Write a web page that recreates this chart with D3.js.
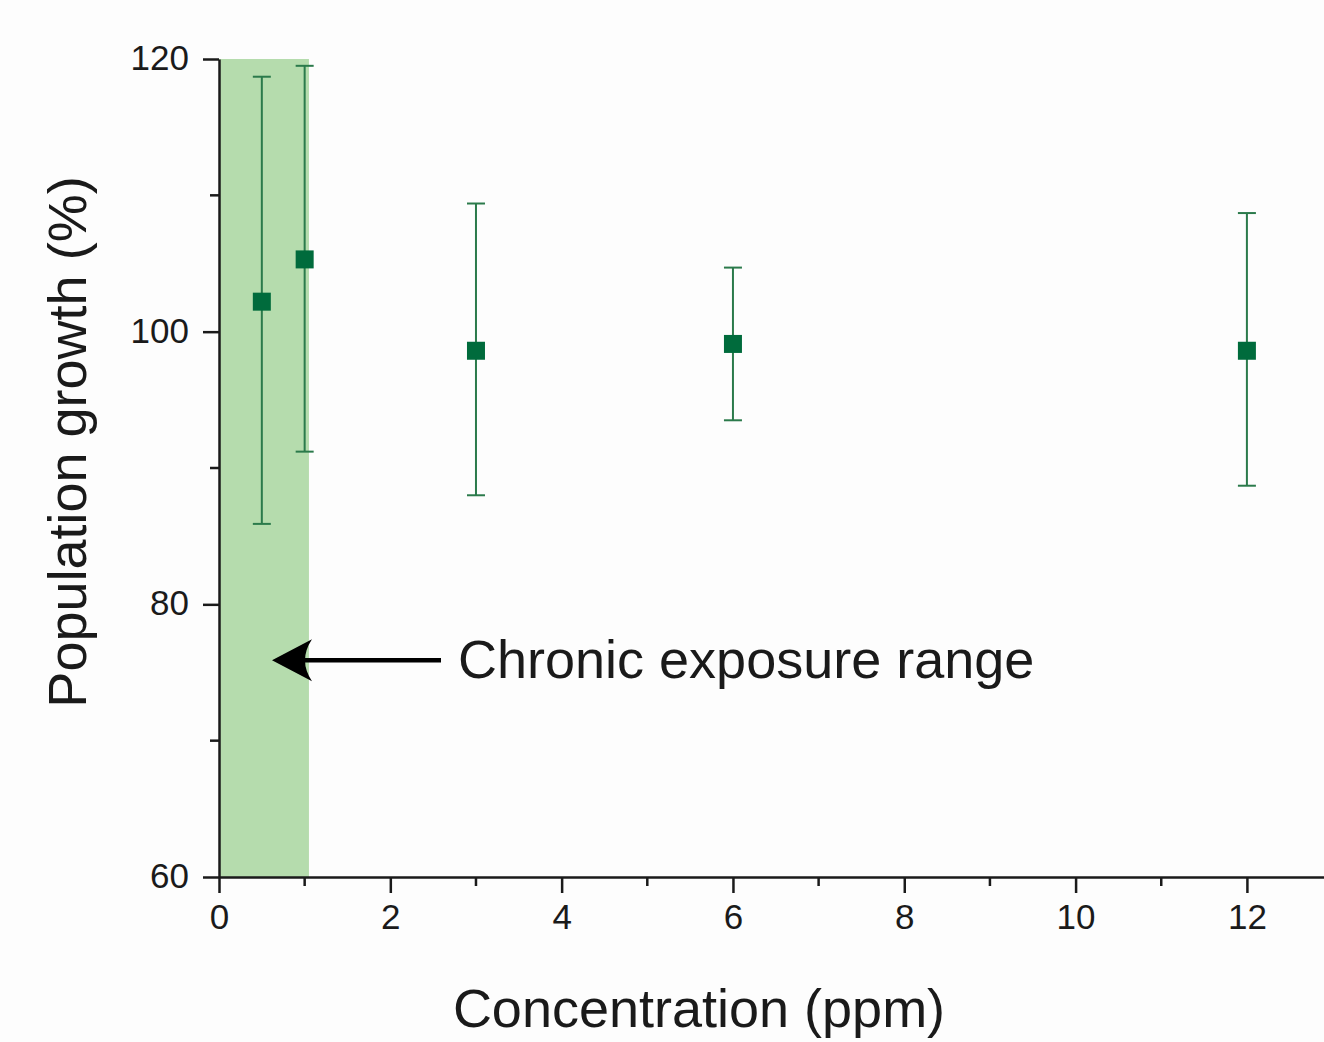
<!DOCTYPE html>
<html>
  <head>
    <meta charset="utf-8">
    <script src="https://cdn.jsdelivr.net/npm/d3@7"></script>
    <style>
      body { margin: 0; background: #fdfdfd; }
      svg text { font-family: "Liberation Sans", Arial, sans-serif; fill: #1a1a1a; }
    </style>
  </head>
  <body>
    <svg id="chart"></svg>
    <script>
    // data
    var conc = [0.5, 1, 3, 6, 12];
    var growth = [102.2, 105.3, 98.6, 99.1, 98.6];
    var errHigh = [118.7, 119.5, 109.4, 104.7, 108.7];
    var errLow = [85.9, 91.2, 88.0, 93.5, 88.7];
    var xTicks = [0, 2, 4, 6, 8, 10, 12];
    var xMinor = [1, 3, 5, 7, 9, 11];
    var yTicks = [60, 80, 100, 120];
    var yMinor = [70, 90, 110];
    var bandRange = [0, 1.05];

    var width = 1324, height = 1042;

    var svg = d3.select("#chart")
      .attr("width", width)
      .attr("height", height);

    var x = d3.scaleLinear().domain([0, 12.9]).range([219, 1324]);
    var y = d3.scaleLinear().domain([60, 120]).range([877, 59]);

    // shaded chronic exposure band
    svg.append("rect")
      .attr("x", x(bandRange[0]))
      .attr("y", y(120))
      .attr("width", x(bandRange[1]) - x(bandRange[0]))
      .attr("height", y(60) - y(120))
      .attr("fill", "#b5dcad");

    // x axis
    var xAxis = svg.append("g")
      .attr("transform", "translate(0," + y(60) + ")")
      .call(d3.axisBottom(x).tickValues(xTicks).tickSize(16).tickSizeOuter(0).tickPadding(11));
    xAxis.selectAll("text").style("font-size", "35px");
    xAxis.append("g").selectAll("line")
      .data(xMinor)
      .enter().append("line")
      .attr("x1", function(d) { return x(d); })
      .attr("x2", function(d) { return x(d); })
      .attr("y1", 0)
      .attr("y2", 9);

    // y axis
    var yAxis = svg.append("g")
      .attr("transform", "translate(" + x(0) + ",0)")
      .call(d3.axisLeft(y).tickValues(yTicks).tickSize(16).tickSizeOuter(0).tickPadding(14));
    yAxis.selectAll("text").style("font-size", "35px").attr("dy", "0.3em");
    yAxis.append("g").selectAll("line")
      .data(yMinor)
      .enter().append("line")
      .attr("x1", -9)
      .attr("x2", 0)
      .attr("y1", function(d) { return y(d); })
      .attr("y2", function(d) { return y(d); });

    svg.selectAll(".domain, .tick line").attr("stroke", "#1a1a1a").attr("stroke-width", 2.5);
    xAxis.selectAll("g line").attr("stroke", "#1a1a1a").attr("stroke-width", 2.5);
    yAxis.selectAll("g line").attr("stroke", "#1a1a1a").attr("stroke-width", 2.5);
    svg.selectAll(".tick text").attr("fill", "#1a1a1a");

    // error bars
    var pts = conc.map(function(c, i) {
      return { c: c, v: growth[i], hi: errHigh[i], lo: errLow[i] };
    });

    var eb = svg.append("g").attr("stroke", "#2b7a4b").attr("stroke-width", 2);
    eb.selectAll(".stem")
      .data(pts)
      .enter().append("line")
      .attr("x1", function(d) { return x(d.c); })
      .attr("x2", function(d) { return x(d.c); })
      .attr("y1", function(d) { return y(d.hi); })
      .attr("y2", function(d) { return y(d.lo); });
    ["hi", "lo"].forEach(function(k) {
      eb.selectAll(".cap-" + k)
        .data(pts)
        .enter().append("line")
        .attr("x1", function(d) { return x(d.c) - 9; })
        .attr("x2", function(d) { return x(d.c) + 9; })
        .attr("y1", function(d) { return y(d[k]); })
        .attr("y2", function(d) { return y(d[k]); });
    });

    // square markers
    var m = 18;
    svg.selectAll(".pt")
      .data(pts)
      .enter().append("rect")
      .attr("x", function(d) { return x(d.c) - m / 2; })
      .attr("y", function(d) { return y(d.v) - m / 2; })
      .attr("width", m)
      .attr("height", m)
      .attr("fill", "#006b3c");

    // annotation arrow
    var ay = y(75.9);
    var tipX = 272;
    svg.append("line")
      .attr("x1", 441).attr("x2", tipX + 20)
      .attr("y1", ay).attr("y2", ay)
      .attr("stroke", "#000").attr("stroke-width", 4.5);
    svg.append("path")
      .attr("d", "M" + tipX + "," + ay + " L" + (tipX + 40) + "," + (ay - 21) +
        " Q" + (tipX + 26) + "," + ay + " " + (tipX + 40) + "," + (ay + 21) + " Z")
      .attr("fill", "#000");
    svg.append("text")
      .attr("x", 458)
      .attr("y", 678)
      .style("font-size", "54px")
      .text("Chronic exposure range");

    // axis titles
    svg.append("text")
      .attr("transform", "translate(86,442) rotate(-90)")
      .attr("text-anchor", "middle")
      .style("font-size", "54px")
      .text("Population growth (%)");
    svg.append("text")
      .attr("x", 699)
      .attr("y", 1027)
      .attr("text-anchor", "middle")
      .style("font-size", "54px")
      .text("Concentration (ppm)");
    </script>
  </body>
</html>
